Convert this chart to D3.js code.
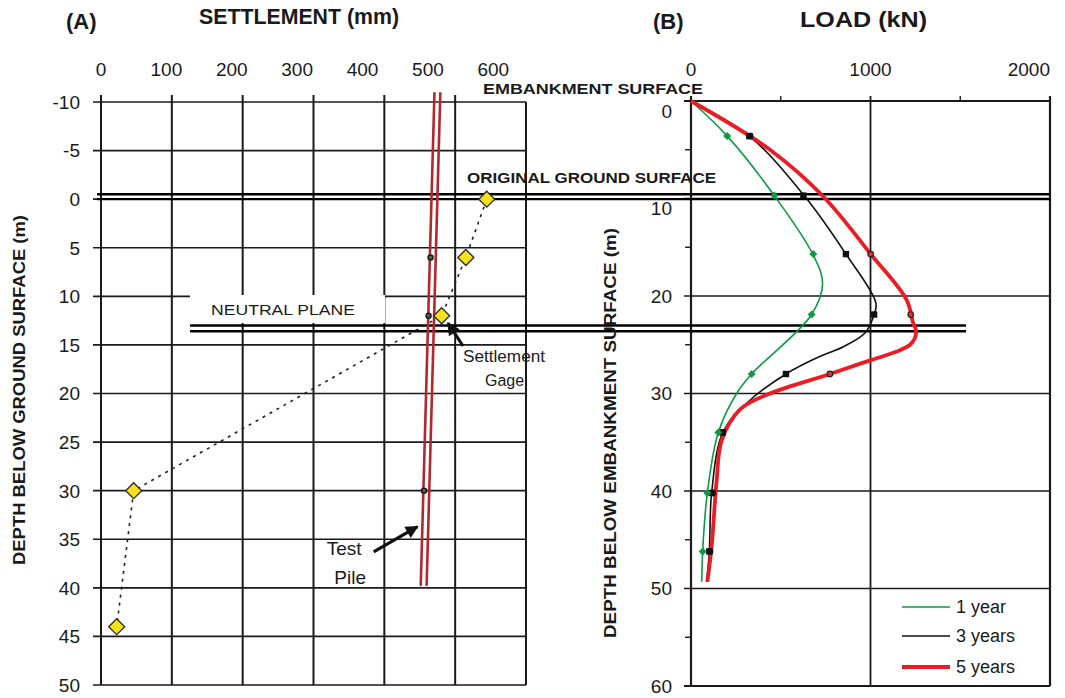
<!DOCTYPE html>
<html>
<head>
<meta charset="utf-8">
<script src="https://cdn.jsdelivr.net/npm/d3@7"></script>
<style>
  body { margin: 0; background: #fff; }
  svg { display: block; font-family: "Liberation Sans", Arial, sans-serif; }
</style>
</head>
<body>
<svg id="chart" width="1065" height="698"></svg>
<script>
// Panel A: settlement gage readings and pile settlement vs depth
const gageDepth = [0, 6, 12, 30, 44];            // m below ground surface
const gageSettlement = [590, 558, 521, 50, 24];  // mm
const pileDotDepth = [6, 12, 30];
const pileDotSettlement = [504, 501, 494];
const pileEndDepth = [-11, 39.8];
const pileLeftSettlement = [510, 489];
const pileRightSettlement = [519, 498];
const settlementTicks = [0, 100, 200, 300, 400, 500, 600];
const depthTicksA = [-10, -5, 0, 5, 10, 15, 20, 25, 30, 35, 40, 45, 50];

// Panel B: load in pile vs depth, 1, 3 and 5 years
const series = ['1 year', '3 years', '5 years'];
const markDepth = [3.6, 9.7, 15.7, 21.9, 28.0, 34.0, 40.2, 46.2];
const mark1yr = [202, 464, 681, 672, 338, 152, 91, 65];
const mark3yr = [325, 626, 863, 1020, 529, 177, 115, 102];
const mark5Depth = [3.6, 15.7, 21.9, 28.0, 34.0, 40.2, 46.2];
const mark5yr = [330, 1001, 1224, 774, 176, 122, 106];
const curve1Depth = [0, 3.6, 9.7, 15.8, 18.7, 21.9, 28.0, 30.0, 34.0, 40.2, 46.2, 49.3];
const curve1Load = [0, 202, 464, 681, 733, 672, 338, 254, 152, 91, 65, 60];
const curve3Depth = [0, 3.6, 9.6, 15.7, 20.7, 21.9, 23.8, 25.2, 26.2, 28.0, 31.0, 34.0, 40.2, 46.2, 49.3];
const curve3Load = [0, 325, 626, 863, 1030, 1020, 969, 849, 718, 529, 310, 177, 115, 102, 87];
const curve5Depth = [0, 5.0, 9.8, 15.7, 20.4, 22.8, 23.5, 24.3, 25.0, 25.7, 26.6, 28.0, 30.0, 31.6, 34.8, 38.9, 45.7, 49.3];
const curve5Load = [0, 440, 737, 1001, 1201, 1238, 1253, 1248, 1220, 1146, 997, 774, 440, 275, 171, 143, 115, 91];
const loadTicks = [0, 1000, 2000];
const loadMinorTicks = [500, 1500];
const depthTicksB = [0, 10, 20, 30, 40, 50, 60];
const depthMinorB = [5, 15, 25, 35, 45, 55];

const colors = { '1 year': '#0c9a46', '3 years': '#111', '5 years': '#ec1c24' };
const widths = { '1 year': 1.6, '3 years': 1.6, '5 years': 3.8 };

const svg = d3.select('#chart');
const ink = '#1a1a1a';

// Scales (panel A spans 0-650 mm; grid divides it in six)
const xA = d3.scaleLinear().domain([0, 650]).range([101, 526]);
const yA = d3.scaleLinear().domain([-10, 50]).range([102, 685]);
const xB = d3.scaleLinear().domain([0, 2000]).range([691, 1050]);
const yB = d3.scaleLinear().domain([0, 60]).range([101, 686]);
const gridA = d3.range(0, 7).map(k => 650 * k / 6);

// ---------- Panel A grid ----------
const gA = svg.append('g');
gA.selectAll('.hgrid')
    .data(depthTicksA)
    .enter()
    .append('line')
    .attr('x1', 93).attr('x2', xA(650))
    .attr('y1', d => yA(d)).attr('y2', d => yA(d))
    .style('stroke', ink).style('stroke-width', 1.6);

gA.selectAll('.vgrid')
    .data(gridA)
    .enter()
    .append('line')
    .attr('x1', d => xA(d)).attr('x2', d => xA(d))
    .attr('y1', (d, i) => i === 6 ? yA(-10) : yA(-10) - 7).attr('y2', yA(50))
    .style('stroke', ink).style('stroke-width', 2);

gA.selectAll('.ylab')
    .data(depthTicksA)
    .enter()
    .append('text')
    .attr('x', 80)
    .attr('y', d => yA(d))
    .attr('dy', '0.36em')
    .attr('text-anchor', 'end')
    .style('font-size', '19px')
    .style('fill', ink)
    .text(d => d);

gA.selectAll('.xlab')
    .data(settlementTicks)
    .enter()
    .append('text')
    .attr('x', d => xA(d))
    .attr('y', 76)
    .attr('text-anchor', 'middle')
    .style('font-size', '19px')
    .style('fill', ink)
    .text(d => d);

// ---------- Panel B grid ----------
const gB = svg.append('g');
gB.selectAll('.hgrid')
    .data(depthTicksB)
    .enter()
    .append('line')
    .attr('x1', 684).attr('x2', xB(2000))
    .attr('y1', d => yB(d)).attr('y2', d => yB(d))
    .style('stroke', ink)
    .style('stroke-width', d => (d === 0 || d === 60) ? 2.2 : 1.4);

gB.selectAll('.minor')
    .data(depthMinorB)
    .enter()
    .append('line')
    .attr('x1', 685).attr('x2', xB(0))
    .attr('y1', d => yB(d)).attr('y2', d => yB(d))
    .style('stroke', ink).style('stroke-width', 1.4);

gB.selectAll('.vgrid')
    .data(loadTicks)
    .enter()
    .append('line')
    .attr('x1', d => xB(d)).attr('x2', d => xB(d))
    .attr('y1', yB(0) - 5).attr('y2', yB(60))
    .style('stroke', ink)
    .style('stroke-width', d => d === 1000 ? 1.8 : 2.2);

gB.selectAll('.topminor')
    .data(loadMinorTicks)
    .enter()
    .append('line')
    .attr('x1', d => xB(d)).attr('x2', d => xB(d))
    .attr('y1', yB(0) - 5).attr('y2', yB(0))
    .style('stroke', ink).style('stroke-width', 1.4);

gB.selectAll('.ylab')
    .data(depthTicksB)
    .enter()
    .append('text')
    .attr('x', 672)
    .attr('y', d => yB(d) + (d <= 10 ? 10 : 0))
    .attr('dy', '0.36em')
    .attr('text-anchor', 'end')
    .style('font-size', '19px')
    .style('fill', ink)
    .text(d => d);

gB.selectAll('.xlab')
    .data(loadTicks)
    .enter()
    .append('text')
    .attr('x', d => xB(d))
    .attr('y', 76)
    .attr('text-anchor', d => d === 2000 ? 'end' : 'middle')
    .style('font-size', '19px')
    .style('fill', ink)
    .text(d => d);

// ---------- Neutral plane label box (hides grid) ----------
svg.append('rect')
    .attr('x', 190).attr('y', 295)
    .attr('width', 195).attr('height', 28)
    .style('fill', '#fff');

svg.append('text')
    .attr('x', 211).attr('y', 315)
    .attr('textLength', 144)
    .attr('lengthAdjust', 'spacingAndGlyphs')
    .style('font-size', '14px')
    .style('fill', ink)
    .text('NEUTRAL  PLANE');

// ---------- Ground surface and neutral plane double lines ----------
[-0.5, 0].forEach(d => {
    svg.append('line')
        .attr('x1', 97).attr('x2', xB(2000))
        .attr('y1', yA(d)).attr('y2', yA(d))
        .style('stroke', '#000').style('stroke-width', 2.4);
});
[13.0, 13.6].forEach(d => {
    svg.append('line')
        .attr('x1', 190).attr('x2', 966)
        .attr('y1', yA(d)).attr('y2', yA(d))
        .style('stroke', '#000').style('stroke-width', 2.4);
});

// ---------- Panel A marks ----------
const gageData = gageDepth.map((d, i) => ({ depth: d, s: gageSettlement[i] }));
const dotted = d3.line()
    .x(d => xA(d.s))
    .y(d => yA(d.depth));

svg.append('path')
    .attr('d', dotted(gageData))
    .style('fill', 'none')
    .style('stroke', '#222')
    .style('stroke-width', 1.6)
    .style('stroke-dasharray', '3,5');

// test pile, drawn as two red lines
[pileLeftSettlement, pileRightSettlement].forEach(arr => {
    svg.append('line')
        .attr('x1', xA(arr[0])).attr('y1', yA(pileEndDepth[0]))
        .attr('x2', xA(arr[1])).attr('y2', yA(pileEndDepth[1]))
        .style('stroke', '#b3282d')
        .style('stroke-width', 2.6);
});

svg.selectAll('.pile-dot')
    .data(pileDotDepth)
    .enter()
    .append('circle')
    .attr('cx', (d, i) => xA(pileDotSettlement[i]))
    .attr('cy', d => yA(d))
    .attr('r', 2.6)
    .style('fill', '#555')
    .style('stroke', '#111')
    .style('stroke-width', 1.2);

svg.selectAll('.gage')
    .data(gageData)
    .enter()
    .append('path')
    .attr('d', 'M0,-8 L8,0 L0,8 L-8,0 Z')
    .attr('transform', d => `translate(${xA(d.s)},${yA(d.depth)})`)
    .style('fill', '#f6e21b')
    .style('stroke', '#2a2a2a')
    .style('stroke-width', 1.3);

// arrows
const defs = svg.append('defs');
defs.append('marker')
    .attr('id', 'head')
    .attr('viewBox', '0 0 10 10')
    .attr('refX', 9).attr('refY', 5)
    .attr('markerWidth', 5).attr('markerHeight', 4)
    .attr('markerUnits', 'strokeWidth')
    .attr('orient', 'auto')
    .append('path')
    .attr('d', 'M0,0 L10,5 L0,10 Z')
    .style('fill', '#111');

svg.append('line')
    .attr('x1', 463).attr('y1', 346)
    .attr('x2', 448).attr('y2', 323)
    .style('stroke', '#111').style('stroke-width', 3.2)
    .attr('marker-end', 'url(#head)');

svg.append('line')
    .attr('x1', xA(417)).attr('y1', yA(36.3))
    .attr('x2', xA(484)).attr('y2', yA(33.7))
    .style('stroke', '#111').style('stroke-width', 3.2)
    .attr('marker-end', 'url(#head)');

// annotation text
const note = (x, y, t, size, anchor) => svg.append('text')
    .attr('x', x).attr('y', y)
    .attr('text-anchor', anchor || 'start')
    .style('font-size', size + 'px')
    .style('fill', ink)
    .text(t);

note(463, 362, 'Settlement', 16).attr('textLength', 82).attr('lengthAdjust', 'spacingAndGlyphs');
note(485, 386, 'Gage', 16);
note(xA(372), yA(36.6), 'Test', 19, 'middle');
note(xA(381), yA(39.6), 'Pile', 19, 'middle');

// ---------- Panel B curves ----------
const curveLine = d3.line()
    .x(d => xB(d.load))
    .y(d => yB(d.depth))
    .curve(d3.curveCatmullRom.alpha(0.5));

const curves = [
    { name: '1 year', pts: curve1Depth.map((d, i) => ({ depth: d, load: curve1Load[i] })) },
    { name: '3 years', pts: curve3Depth.map((d, i) => ({ depth: d, load: curve3Load[i] })) },
    { name: '5 years', pts: curve5Depth.map((d, i) => ({ depth: d, load: curve5Load[i] })) }
];

svg.selectAll('.load-line')
    .data(curves)
    .enter()
    .append('path')
    .attr('d', d => curveLine(d.pts))
    .style('fill', 'none')
    .style('stroke', d => colors[d.name])
    .style('stroke-width', d => widths[d.name])
    .style('stroke-linejoin', 'round');

// markers
svg.selectAll('.m5')
    .data(mark5Depth)
    .enter()
    .append('circle')
    .attr('cx', (d, i) => xB(mark5yr[i]))
    .attr('cy', d => yB(d))
    .attr('r', 2.8)
    .style('fill', '#d33')
    .style('stroke', '#222')
    .style('stroke-width', 1.2);

svg.selectAll('.m3')
    .data(markDepth)
    .enter()
    .append('rect')
    .attr('x', (d, i) => xB(mark3yr[i]) - 3.2)
    .attr('y', d => yB(d) - 3.2)
    .attr('width', 6.4).attr('height', 6.4)
    .style('fill', '#111');

svg.selectAll('.m1')
    .data(markDepth)
    .enter()
    .append('path')
    .attr('d', 'M0,-4 L4,0 L0,4 L-4,0 Z')
    .attr('transform', (d, i) => `translate(${xB(mark1yr[i])},${yB(d)})`)
    .style('fill', colors['1 year']);

// legend
const legend = svg.append('g');
series.forEach((s, i) => {
    const y = [607, 636, 667][i];
    legend.append('line')
        .attr('x1', 902).attr('x2', 950)
        .attr('y1', y).attr('y2', y)
        .style('stroke', colors[s])
        .style('stroke-width', widths[s]);
    legend.append('text')
        .attr('x', 956).attr('y', y)
        .attr('dy', '0.36em')
        .style('font-size', '18px')
        .style('fill', ink)
        .text(s);
});

// ---------- Titles ----------
const bold = (x, y, t, size, len) => {
    const el = svg.append('text')
        .attr('x', x).attr('y', y)
        .style('font-size', size + 'px')
        .style('font-weight', 'bold')
        .style('fill', ink)
        .text(t);
    if (len) el.attr('textLength', len).attr('lengthAdjust', 'spacingAndGlyphs');
    return el;
};

bold(66, 29, '(A)', 22);
bold(199, 24, 'SETTLEMENT  (mm)', 22, 200);
bold(653, 29, '(B)', 22);
bold(800, 27, 'LOAD  (kN)', 22, 127);
bold(483, 94, 'EMBANKMENT  SURFACE', 14, 220);
bold(467, 183, 'ORIGINAL GROUND SURFACE', 15, 249);

svg.append('text')
    .attr('transform', 'translate(25,390) rotate(-90)')
    .attr('text-anchor', 'middle')
    .attr('textLength', 350)
    .attr('lengthAdjust', 'spacingAndGlyphs')
    .style('font-size', '17px')
    .style('font-weight', 'bold')
    .style('fill', ink)
    .text('DEPTH  BELOW  GROUND  SURFACE  (m)');

svg.append('text')
    .attr('transform', 'translate(616,433) rotate(-90)')
    .attr('text-anchor', 'middle')
    .attr('textLength', 410)
    .attr('lengthAdjust', 'spacingAndGlyphs')
    .style('font-size', '17px')
    .style('font-weight', 'bold')
    .style('fill', ink)
    .text('DEPTH  BELOW  EMBANKMENT  SURFACE  (m)');
</script>
</body>
</html>
